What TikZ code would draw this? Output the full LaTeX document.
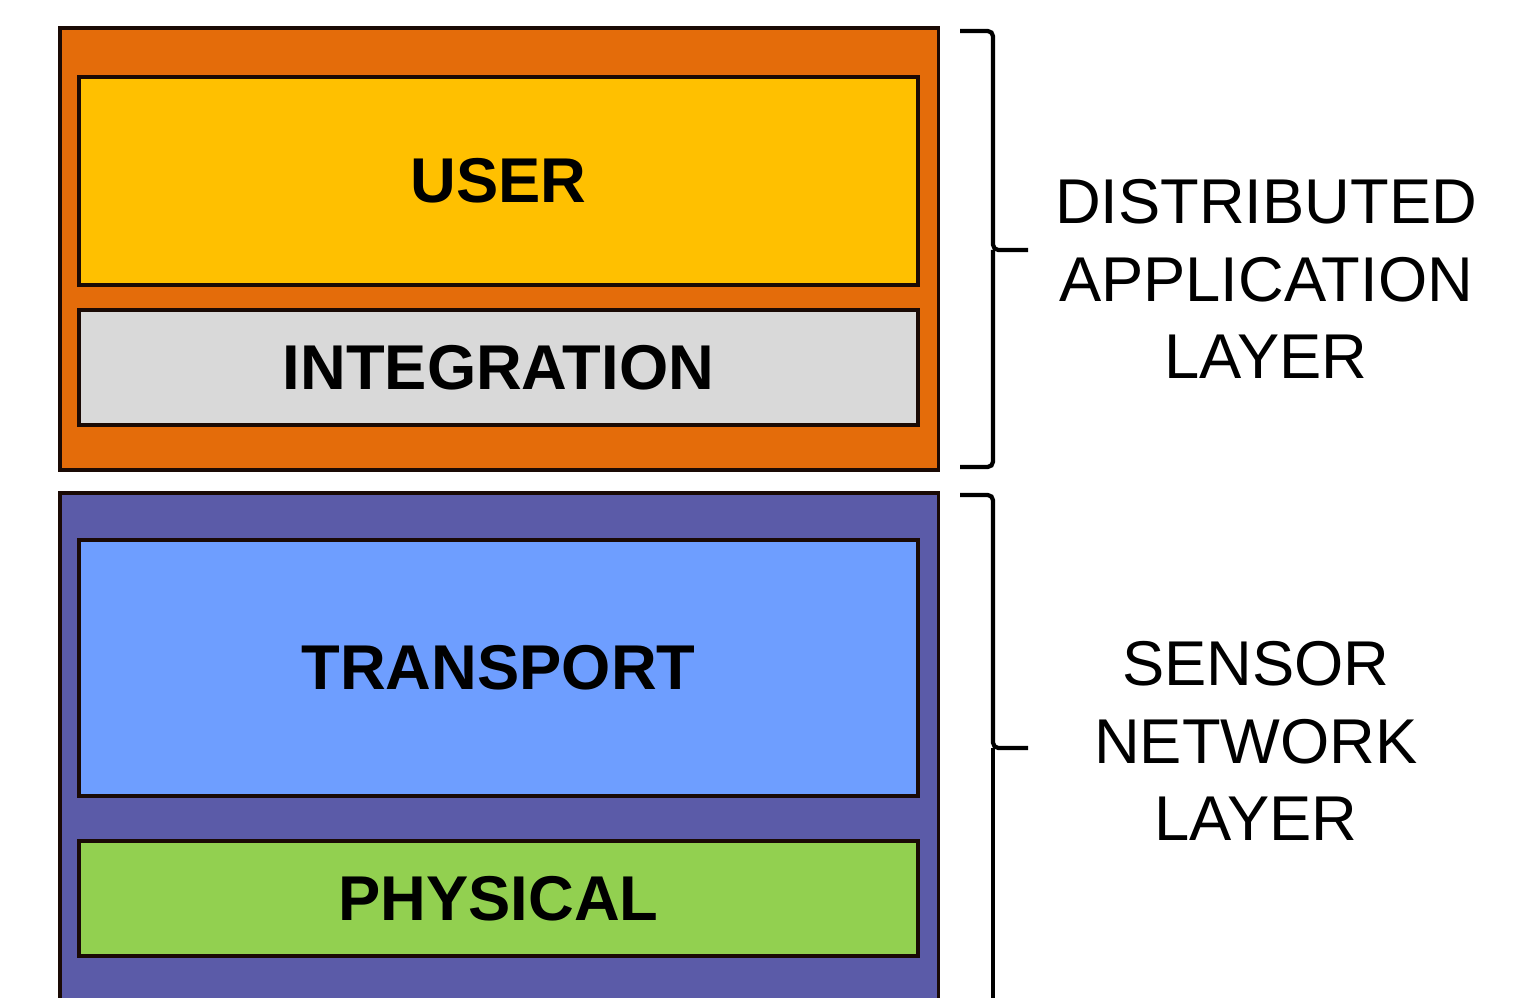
\documentclass[tikz,border=0pt]{standalone}
\usepackage{fontspec}
\setmainfont{Liberation Sans}
\definecolor{edgedark}{HTML}{1A0A05}
\definecolor{apporange}{HTML}{E46C0A}
\definecolor{useryellow}{HTML}{FFC000}
\definecolor{intgray}{HTML}{D9D9D9}
\definecolor{netpurple}{HTML}{5B5BA8}
\definecolor{transblue}{HTML}{6E9EFF}
\definecolor{physgreen}{HTML}{92D050}

\tikzset{
  outerbox/.style={draw=edgedark, line width=1pt, minimum width=8.78cm, inner sep=0pt},
  layerbox/.style={draw=edgedark, line width=1pt, minimum width=8.39cm, inner sep=0pt,
    font=\bfseries\fontsize{18}{22}\selectfont},
  sidelabel/.style={align=center, font=\fontsize{18}{22.1}\selectfont},
  bracket/.style={line width=1.2pt, rounded corners=1.5pt}
}

\begin{document}
\begin{tikzpicture}[x=0.01cm, y=-0.01cm]
  \clip (0,0) rectangle (1539,998);
  \fill[white] (0,0) rectangle (1539,998);

  \node[outerbox, fill=apporange, minimum height=4.42cm] (appbox) at (499,249) {};
  \node[layerbox, fill=useryellow, minimum height=2.08cm] (userbox) at (498.5,181) {USER};
  \node[layerbox, fill=intgray, minimum height=1.15cm] (intbox) at (498.5,367.5) {INTEGRATION};

  \node[outerbox, fill=netpurple, minimum height=5.22cm] (netbox) at (499,754) {};
  \node[layerbox, fill=transblue, minimum height=2.56cm] (transbox) at (498.5,668) {TRANSPORT};
  \node[layerbox, fill=physgreen, minimum height=1.15cm] (physbox) at (498.5,898.5) {PHYSICAL};

  \node[sidelabel] (applabel) at (1266,279) {DISTRIBUTED\\APPLICATION\\LAYER};
  \node[sidelabel] (netlabel) at (1256,741) {SENSOR\\NETWORK\\LAYER};

  \draw[bracket] (960,31) -- (993,31) -- (993,250) -- (1028,250);
  \draw[bracket] (993,250) -- (993,467) -- (960,467);
  \draw[bracket] (960,495) -- (993,495) -- (993,748) -- (1028,748);
  \draw[bracket] (993,748) -- (993,1010);
\end{tikzpicture}
\end{document}
